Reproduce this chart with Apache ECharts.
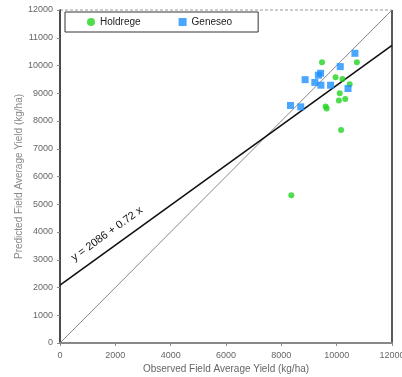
<!DOCTYPE html>
<html>
<head>
<meta charset="utf-8">
<script src="https://cdn.jsdelivr.net/npm/echarts@6/dist/echarts.min.js"></script>
<style>
  html, body { margin: 0; padding: 0; background: #fff; }
  #chart { width: 402px; height: 377px; }
</style>
</head>
<body>
<div id="chart"></div>
<script>
// observed vs predicted field average yield (kg/ha)
var holdrege = [
  [9470, 10120], [10730, 10120], [9960, 9580], [10210, 9510], [10470, 9320],
  [10110, 9000], [10080, 8740], [10310, 8790], [9600, 8520], [9640, 8450],
  [10160, 7680], [8360, 5320]
]
var geneseo = [
  [10660, 10440], [10130, 9960], [9420, 9720], [9340, 9650], [8860, 9490],
  [9210, 9390], [9430, 9290], [9780, 9290], [10410, 9170], [8330, 8560],
  [8700, 8510]
]
var oneToOne = [[0, 0], [12000, 12000]]
var regression = [[0, 2086], [12000, 2086 + 0.72 * 12000]]

var chart = echarts.init(document.getElementById('chart'))

var labelColor = '#666'
var font = 'Liberation Sans, Arial, sans-serif'

chart.setOption({
  animation: false,
  textStyle: { fontFamily: font },
  grid: { left: 60, right: 10, top: 10, bottom: 34, outerBoundsMode: 'none' },
  legend: {
    left: 65,
    top: 12,
    padding: [5, 26, 5, 22],
    itemGap: 38,
    itemWidth: 8,
    itemHeight: 8,
    borderColor: '#333',
    borderWidth: 1,
    textStyle: { fontSize: 10, color: '#222', fontFamily: font },
    data: [
      { name: 'Holdrege', icon: 'circle' },
      { name: 'Geneseo', icon: 'rect' }
    ]
  },
  xAxis: {
    type: 'value',
    min: 0,
    max: 12000,
    interval: 2000,
    name: 'Observed Field Average Yield (kg/ha)',
    nameLocation: 'middle',
    nameGap: 21,
    nameMoveOverlap: false,
    nameTextStyle: { fontSize: 10, color: labelColor },
    axisLine: { lineStyle: { color: '#888', width: 2 } },
    axisTick: { show: true, length: 3, lineStyle: { color: '#888' } },
    axisLabel: { fontSize: 9, color: labelColor, margin: 8, formatter: function (v) { return String(v) } },
    splitLine: { show: false }
  },
  yAxis: {
    type: 'value',
    min: 0,
    max: 12000,
    interval: 1000,
    name: 'Predicted Field Average Yield (kg/ha)',
    nameLocation: 'middle',
    nameGap: 36,
    nameMoveOverlap: false,
    nameTextStyle: { fontSize: 10, color: '#888' },
    axisLine: { lineStyle: { color: '#111', width: 1.5 } },
    axisTick: { show: true, length: 3, lineStyle: { color: '#888' } },
    axisLabel: { fontSize: 9, color: labelColor, margin: 7, formatter: function (v) { return String(v) } },
    splitLine: { show: false }
  },
  graphic: [
    {
      type: 'line',
      shape: { x1: 60, y1: 10, x2: 392, y2: 10 },
      style: { stroke: '#999', lineWidth: 1, lineDash: [3, 2] }
    },
    {
      type: 'line',
      shape: { x1: 392, y1: 10, x2: 392, y2: 343 },
      style: { stroke: '#222', lineWidth: 1.5 }
    },
    {
      type: 'text',
      x: 107,
      y: 234,
      rotation: Math.atan(0.72),
      style: {
        text: 'y = 2086 + 0.72 x',
        fill: '#111',
        font: '11px Liberation Sans, Arial, sans-serif',
        align: 'center',
        verticalAlign: 'middle'
      }
    }
  ],
  series: [
    {
      name: '1:1',
      type: 'line',
      data: oneToOne,
      symbol: 'none',
      lineStyle: { color: '#888', width: 1 },
      z: 1
    },
    {
      name: 'fit',
      type: 'line',
      data: regression,
      symbol: 'none',
      lineStyle: { color: '#111', width: 1.6 },
      z: 1
    },
    {
      name: 'Holdrege',
      type: 'scatter',
      data: holdrege,
      symbol: 'circle',
      symbolSize: 6,
      itemStyle: { color: '#22d422' },
      z: 3
    },
    {
      name: 'Geneseo',
      type: 'scatter',
      data: geneseo,
      symbol: 'rect',
      symbolSize: 7,
      itemStyle: { color: '#1e90ff' },
      z: 3
    }
  ]
})
</script>
</body>
</html>
